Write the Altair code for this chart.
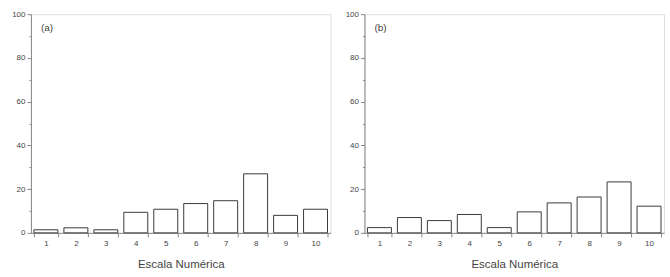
import altair as alt
import pandas as pd

categories = [str(i) for i in range(1, 11)]
values_a = [1.4, 2.3, 1.4, 9.4, 10.8, 13.4, 14.7, 27.0, 8.0, 10.8]
values_b = [2.4, 7.0, 5.6, 8.4, 2.4, 9.6, 13.7, 16.4, 23.3, 12.2]
panel_labels = ["(a)", "(b)"]
x_title = "Escala Numérica"
y_ticks = list(range(0, 101, 10))

FONT = "Liberation Sans"
TXT = "#444444"
AX = "#888888"


def panel(values, label):
    df = pd.DataFrame({"cat": categories, "val": values})
    bars = alt.Chart(df).mark_bar(
        fill="white", stroke="#3a3a3a", strokeWidth=1
    ).encode(
        x=alt.X(
            "cat:O",
            sort=categories,
            scale=alt.Scale(paddingInner=0.2, paddingOuter=0.1),
            axis=alt.Axis(
                title=x_title, labelAngle=0, tickBand="extent",
                tickSize=4, labelPadding=3, labelFontSize=8,
                titleFontSize=11.5, titlePadding=11, titleFontWeight="normal",
                domainColor=AX, tickColor=AX, labelColor=TXT, titleColor=TXT,
                labelFont=FONT, titleFont=FONT,
            ),
        ),
        y=alt.Y(
            "val:Q",
            scale=alt.Scale(domain=[0, 100], nice=False),
            axis=alt.Axis(
                title=None, values=y_ticks, grid=False,
                labelExpr="datum.value % 20 === 0 ? datum.label : ''",
                tickSize={"condition": {"test": "datum.value % 20 === 0", "value": 4}, "value": 2},
                labelFontSize=8, labelPadding=2, domainColor=AX, tickColor=AX,
                labelColor=TXT, labelFont=FONT,
            ),
        ),
    )
    txt = alt.Chart(pd.DataFrame({"t": [label]})).mark_text(
        align="left", baseline="middle", fontSize=10, font=FONT, color=TXT
    ).encode(x=alt.value(10), y=alt.value(14), text="t:N")
    return alt.layer(bars, txt).properties(width=300, height=219)


chart = alt.hconcat(
    panel(values_a, panel_labels[0]),
    panel(values_b, panel_labels[1]),
    spacing=13,
).properties(
    padding={"left": 11, "top": 9, "right": 5, "bottom": 0},
).configure_view(
    stroke=AX, strokeWidth=1
).configure(background="white")

chart.save("out.html", embed_options={"renderer": "svg", "actions": False})
